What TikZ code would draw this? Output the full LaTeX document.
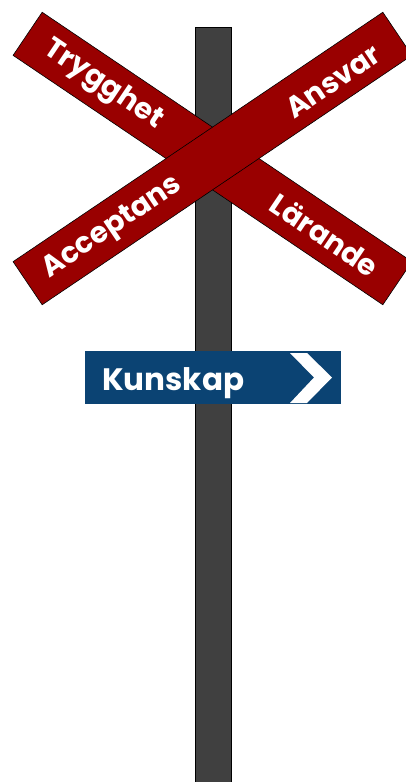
\documentclass[tikz,border=0pt]{standalone}
\usepackage{fontspec}
\setmainfont{Poppins}
\definecolor{bandred}{HTML}{990000}
\definecolor{signblue}{HTML}{0B4373}
\definecolor{polegray}{HTML}{404040}
\begin{document}
\begin{tikzpicture}[x=1pt,y=-1pt,
  band/.style={draw=black,line width=0.6pt,fill=bandred,minimum width=446pt,minimum height=52pt,inner sep=0pt},
  bandtext/.style={text=white,font=\bfseries\fontsize{29}{29}\selectfont,inner sep=0pt},
  signbox/.style={draw=none,fill=signblue,minimum width=256pt,minimum height=53pt,inner sep=0pt},
  polebox/.style={draw=black,line width=0.6pt,fill=polegray,minimum width=36pt,minimum height=770pt,inner sep=0pt,anchor=north}]
\useasboundingbox (0,0) rectangle (406,782);
\clip (0,0) rectangle (406,782);
\node[polebox] (pole) at (213,27) {};
\node[band,rotate=-34] (b1) at (212.5,158.5) {};
\node[band,rotate=34] (b2) at (212.5,158.5) {};
\node[bandtext,rotate=-34] (t1) at (103,85) {Trygghet};
\node[bandtext,rotate=-34] (t2) at (325,235) {Lärande};
\node[bandtext,rotate=34] (t3) at (333,81) {Ansvar};
\node[bandtext,rotate=34] (t4) at (113,228) {Acceptans};
\node[signbox] (sign) at (213,377.5) {};
\fill[white] (290,353) -- (307,353) -- (332,377.5) -- (307,403) -- (290,403) -- (314,377.5) -- cycle;
\node[text=white,font=\bfseries\fontsize{31}{31}\selectfont,inner sep=0pt,anchor=base west] (kt) at (102,390) {Kunskap};
\end{tikzpicture}
\end{document}
